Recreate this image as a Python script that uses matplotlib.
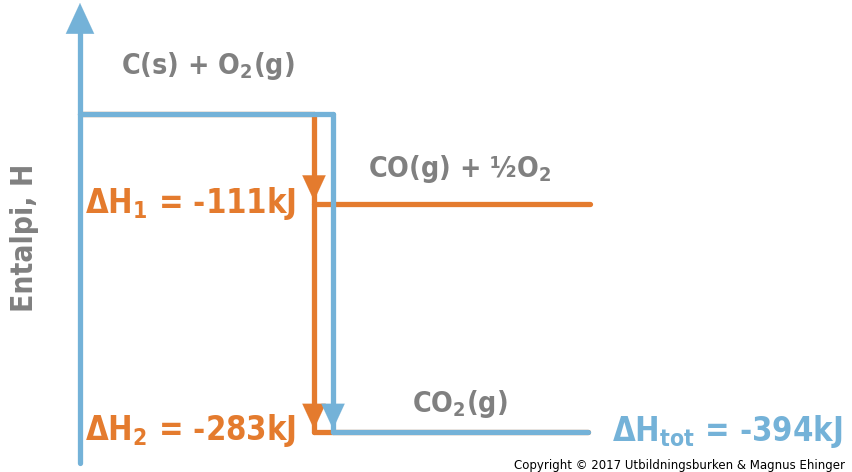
import matplotlib.pyplot as plt

# enthalpy levels (kJ) and labels
levels = ["C(s) + O$_2$(g)", "CO(g) + ½O$_2$", "CO$_2$(g)"]
enthalpy = [0, -111, -394]
steps = ["ΔH$_1$ = -111kJ", "ΔH$_2$ = -283kJ"]
total = "ΔH$_{tot}$ = -394kJ"

BLUE = "#74b2d8"
ORANGE = "#e47b2e"
GRAY = "#808080"
FONT = ["DejaVu Sans Condensed", "DejaVu Sans"]

plt.rcParams["font.family"] = FONT
plt.rcParams["font.stretch"] = "condensed"
plt.rcParams["mathtext.fontset"] = "custom"
plt.rcParams["mathtext.rm"] = "DejaVu Sans Condensed:bold"
plt.rcParams["mathtext.it"] = "DejaVu Sans Condensed:bold"

fig = plt.figure(figsize=(8.52, 4.72), dpi=100)
ax = fig.add_axes([0, 0, 1, 1])
ax.set_xlim(0, 852)
ax.set_ylim(-443.6, 141.2)
ax.axis("off")

lw = 3.8
kw = dict(lw=lw, solid_capstyle="round", solid_joinstyle="round")
head = "-|>,head_length=1.3,head_width=0.6"

top, mid, bot = enthalpy
x_axis, x_or, x_bl, x_end = 80, 314, 333, 588

# orange path (behind)
ax.plot([x_axis, x_or], [top, top], color=ORANGE, **kw)
ax.plot([x_or, x_or], [top, bot], color=ORANGE, **kw)
ax.plot([x_or, x_end + 2], [mid, mid], color=ORANGE, **kw)
ax.plot([x_or, x_end], [bot, bot], color=ORANGE, **kw)
for y in (mid, bot):
    ax.annotate("", xy=(x_or, y), xytext=(x_or, y + 30),
                arrowprops=dict(arrowstyle=head, mutation_scale=14,
                                color=ORANGE, lw=0.1))

# blue path
ax.plot([x_axis, x_axis], [-432, 125], color=BLUE, **kw)
ax.annotate("", xy=(x_axis, 141), xytext=(x_axis, 110),
            arrowprops=dict(arrowstyle=head, mutation_scale=17,
                            color=BLUE, lw=0.1))
ax.plot([x_axis, x_bl], [top, top], color=BLUE, **kw)
ax.plot([x_bl, x_bl], [top, bot], color=BLUE, **kw)
ax.plot([x_bl, x_end], [bot, bot], color=BLUE, **kw)
ax.annotate("", xy=(x_bl, bot), xytext=(x_bl, bot + 30),
            arrowprops=dict(arrowstyle=head, mutation_scale=14,
                            color=BLUE, lw=0.1))

gkw = dict(fontweight="bold", fontsize=20.5, color=GRAY, ha="center", va="center")
ax.text(208, top + 60, levels[0], **gkw)
ax.text(460, mid + 43, levels[1], **gkw)
ax.text(460, bot + 35, levels[2], **gkw)

tkw = dict(fontweight="bold", fontsize=23.5, ha="left", va="center")
ax.text(85, mid, steps[0], color=ORANGE, **tkw)
ax.text(85, bot + 2, steps[1], color=ORANGE, **tkw)
ax.text(612, bot, total, color=BLUE, **tkw)

ax.text(25, -153, "Entalpi, H", color=GRAY, rotation=90, ha="center",
        va="center", fontweight="bold", fontsize=21.5)
ax.text(845, -435, "Copyright © 2017 Utbildningsburken & Magnus Ehinger",
        fontsize=8.5, ha="right", va="center", color="black",
        family=["DejaVu Sans"], fontstretch="normal", fontweight="normal")

fig.savefig("out.png", dpi=100)
